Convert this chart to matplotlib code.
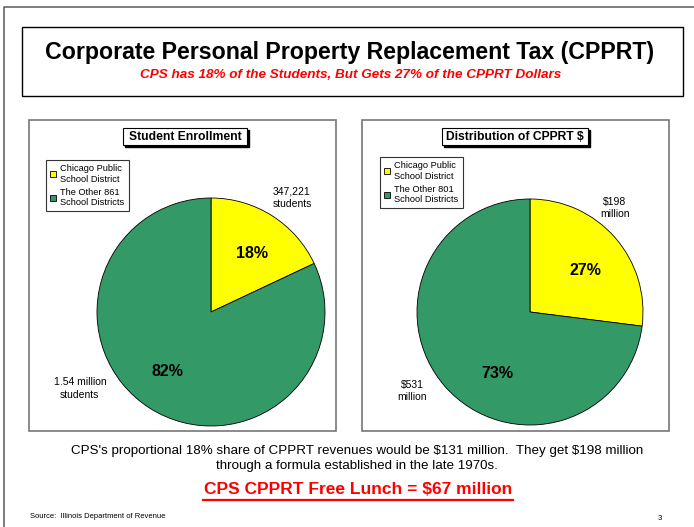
import matplotlib.pyplot as plt
from matplotlib.patches import Rectangle

plt.rcParams['font.family'] = ['Liberation Sans', 'DejaVu Sans']
plt.rcParams['text.parse_math'] = False

W, H = 694, 527

# data
districts = ["Chicago Public\nSchool District", "The Other 861\nSchool Districts"]
districts_r = ["Chicago Public\nSchool District", "The Other 801\nSchool Districts"]
enroll_pct = [18, 82]
enroll_labels = ["347,221\nstudents", "1.54 million\nstudents"]
dollar_pct = [27, 73]
dollar_labels = ["$198\nmillion", "$531\nmillion"]
colors = ["#FFFF00", "#339966"]

fig = plt.figure(figsize=(W / 100, H / 100), dpi=100)
bg = fig.add_axes([0, 0, 1, 1])
bg.set_xlim(0, W)
bg.set_ylim(H, 0)
bg.axis("off")


def px_axes(x, y, w, h):
    return fig.add_axes([x / W, 1 - (y + h) / H, w / W, h / H])


# slide frame
bg.plot([4, 4, W], [H, 7, 7], color="#666666", lw=1.2)

# title box
bg.add_patch(Rectangle((22, 27), 661, 69, fill=False, ec="black", lw=1))
bg.text(350, 53, "Corporate Personal Property Replacement Tax (CPPRT)",
        ha="center", va="center", fontsize=16.7, fontweight="bold")
bg.text(351, 75, "CPS has 18% of the Students, But Gets 27% of the CPPRT Dollars",
        ha="center", va="center", fontsize=9.7, fontweight="bold",
        fontstyle="italic", color="red")

# panels
for x0, cx, title, tw in [(29, 185, "Student Enrollment", 124),
                          (362, 515, "Distribution of CPPRT $", 146)]:
    bg.add_patch(Rectangle((x0, 120), 307, 311, fill=False, ec="#777777", lw=1.2))
    bg.add_patch(Rectangle((cx - tw / 2 + 2, 130), tw, 17, fc="black", ec="black"))
    bg.add_patch(Rectangle((cx - tw / 2, 128), tw, 17, fc="white", ec="black", lw=0.8))
    bg.text(cx, 137, title, ha="center", va="center", fontsize=8.7, fontweight="bold")


def draw_pie(x, y, r, vals, legend_names, outer, pct_pos, outer_pos, leg_xy):
    ax = px_axes(x - r, y - r, 2 * r, 2 * r)
    wedges, _ = ax.pie(vals, colors=colors, startangle=90, counterclock=False,
                       wedgeprops=dict(edgecolor="black", linewidth=0.6))
    ax.set_xlim(-1, 1)
    ax.set_ylim(-1, 1)
    for v, p in zip(vals, pct_pos):
        ax.text(p[0], p[1], f"{v}%", ha="center", va="center",
                fontsize=11.5, fontweight="bold")
    for t, p in zip(outer, outer_pos):
        ax.text(p[0], p[1], t, ha="center", va="center", fontsize=7.5,
                linespacing=1.3, clip_on=False)
    leg = fig.legend(wedges, legend_names, loc="upper left",
                     bbox_to_anchor=(leg_xy[0] / W, 1 - leg_xy[1] / H),
                     fontsize=6.7, frameon=True, fancybox=False,
                     handlelength=0.6, handleheight=0.6, handletextpad=0.5,
                     borderpad=0.45, labelspacing=0.45, borderaxespad=0)
    for t in leg.get_texts():
        t.set_linespacing(1.2)
    leg.get_frame().set_edgecolor("black")
    leg.get_frame().set_linewidth(0.8)
    return ax


draw_pie(211, 312, 114, enroll_pct, districts, enroll_labels,
         [(0.36, 0.51), (-0.38, -0.52)], [(0.71, 1.0), (-1.15, -0.67)], (46, 160))
draw_pie(530, 312, 113, dollar_pct, districts_r, dollar_labels,
         [(0.49, 0.37), (-0.29, -0.54)], [(0.75, 0.92), (-1.04, -0.70)], (380, 157))

# bottom text
bg.text(357, 451, "CPS's proportional 18% share of CPPRT revenues would be $131 million.  "
        "They get $198 million", ha="center", va="center", fontsize=9.6)
bg.text(357, 466, "through a formula established in the late 1970s.",
        ha="center", va="center", fontsize=9.6)
bg.text(358, 489, "CPS CPPRT Free Lunch = $67 million", ha="center", va="center",
        fontsize=12.5, fontweight="bold", color="red")
bg.plot([203, 513], [500, 500], color="red", lw=1.6)
bg.text(30, 516, "Source:  Illinois Department of Revenue", ha="left", va="center",
        fontsize=5.5)
bg.text(660, 519, "3", ha="center", va="center", fontsize=5.5)

fig.savefig("out.png", dpi=100)
